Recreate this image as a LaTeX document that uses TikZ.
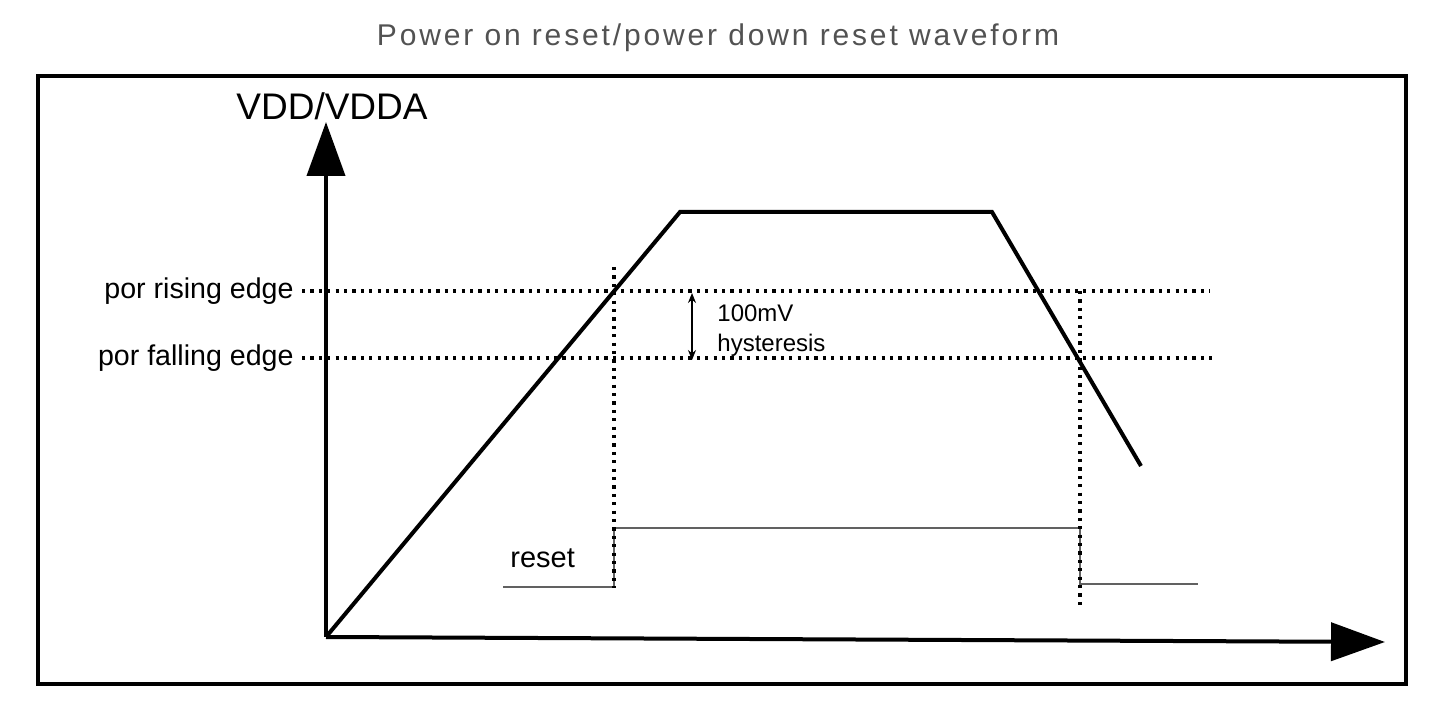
\documentclass[tikz,border=0pt]{standalone}
\usepackage{fontspec}
\setmainfont{Liberation Sans}
\usetikzlibrary{arrows.meta}

\begin{document}
\begin{tikzpicture}[x=0.5pt,y=-0.5pt] % one unit = one pixel of the sketch
        % Define levels in pixels
        \def\riseLevel{291}
        \def\fallLevel{358}
        \def\resetLow{587}
        \def\resetHigh{528}

        \tikzset{
            axisline/.style={line width=2pt,-{Triangle[length=27pt,width=19pt]}},
            wave/.style={line width=2pt,line join=miter},
            guide/.style={line width=1.7pt,dash pattern=on 1.6pt off 2.6pt},
            resetline/.style={line width=1.3pt,black!62},
            lbl/.style={inner sep=0pt,font=\fontsize{14.3pt}{17pt}\selectfont}
        }

        % Fix the page size
        \useasboundingbox (0,0) rectangle (1446,726);

        % Title above the frame
        \node[anchor=base,inner sep=0pt,text=black!68,
              font=\fontsize{15pt}{18pt}\selectfont\addfontfeature{LetterSpace=9.5}]
              (title) at (718,46) {Power on reset/power down reset waveform};

        % Draw the frame
        \draw[line width=1.8pt] (38,76) rectangle (1406,684);

        % Draw the axes
        \coordinate (O) at (326,637);
        \coordinate (ytip) at (326,122);
        \coordinate (xtip) at (1385,642);
        \draw[axisline] (O) -- (ytip);
        \draw[axisline] (O) -- (xtip);
        \node[anchor=base,inner sep=0pt,font=\fontsize{18.5pt}{22pt}\selectfont]
              (vdd) at (332,120) {VDD/VDDA};

        % Draw the two por levels
        \foreach \lvl/\name/\txt/\xend in {\riseLevel/rise/por rising edge/1210,
                                           \fallLevel/fall/por falling edge/1216} {
            \node[lbl,anchor=east] (\name) at (294,\lvl) {\txt};
            \coordinate (\name end) at (\xend,\lvl);
            \draw[guide] ([xshift=4pt]\name.east) -- (\name end);
        }

        % Draw the supply waveform
        \coordinate (A) at (680,212);
        \coordinate (B) at (992,212);
        \coordinate (C) at (1141,466);
        \draw[wave] (O) -- (A) -- (B) -- (C);

        % Draw the reset signal
        \coordinate (r0) at (503,\resetLow);
        \coordinate (r1) at (1198,584);
        \draw[resetline] (r0) -| (614,\resetHigh) -| (1080,584) -- (r1);
        \node[lbl,anchor=base west,font=\fontsize{14.5pt}{17pt}\selectfont]
              (reset) at (510,568) {reset};

        % Draw the vertical markers
        \coordinate (m1 top) at (614,267);
        \coordinate (m1 bot) at (614,588);
        \coordinate (m2 top) at (1080,291);
        \coordinate (m2 bot) at (1080,610);
        \draw[guide] (m1 top) -- (m1 bot);
        \draw[guide] (m2 top) -- (m2 bot);

        % Hysteresis mark
        \coordinate (h top) at (692,293);
        \coordinate (h bot) at (692,360);
        \draw[line width=0.7pt,{Stealth[length=5pt,width=4pt]}-{Stealth[length=5pt,width=4pt]}]
              (h top) -- (h bot);
        \node[anchor=north west,inner sep=0pt,align=left,
              font=\fontsize{12pt}{15pt}\selectfont] (hys) at (717,304) {100mV\\hysteresis};

    \end{tikzpicture}
\end{document}
